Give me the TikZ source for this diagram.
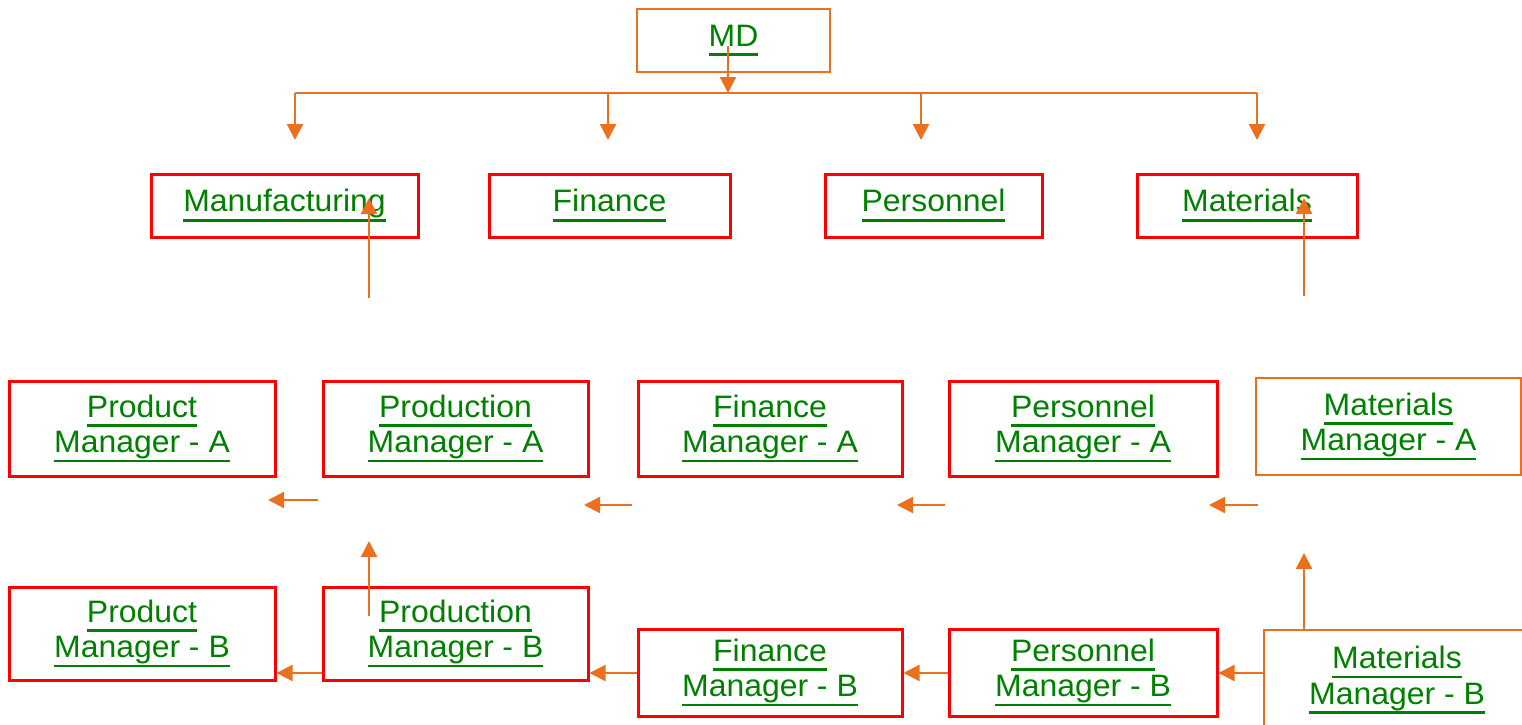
\documentclass[tikz,border=0pt]{standalone}
\usepackage{fontspec}
\setmainfont{Liberation Sans}[FakeStretch=1.03]
\usetikzlibrary{arrows.meta,fit}
\definecolor{org}{RGB}{234,112,30}
\definecolor{grn}{RGB}{0,128,0}
\definecolor{rd}{RGB}{255,0,0}
\newsavebox\ulbox
\newcommand{\ulx}[1]{\leavevmode\sbox\ulbox{#1}\rlap{\rule[-0.32em]{\wd\ulbox}{0.09em}}\usebox\ulbox}
\newcommand{\lbl}{\fontsize{15.5pt}{17.75pt}\selectfont}
\begin{document}
\begin{tikzpicture}[x=0.5pt,y=-0.5pt,
  box/.style={draw=rd, line width=1.5pt, inner sep=0pt},
  obox/.style={box, draw=org, line width=1pt},
  txt/.style={inner sep=0pt, text=grn, align=center, font=\lbl},
  bus/.style={draw=org, line width=1pt},
  conn/.style={draw=org, line width=1.1pt, -{Triangle[width=8pt,length=8pt]}}]
\useasboundingbox (0,0) rectangle (1522,724);
% top
\node[obox, fit={(637,9) (830,72)}] (md) {};
\node[box, fit={(151,174) (418,237)}] (manu) {};
\node[box, fit={(489,174) (730,237)}] (fin) {};
\node[box, fit={(825,174) (1042,237)}] (pers) {};
\node[box, fit={(1137,174) (1357,237)}] (mat) {};
% row A
\node[box, fit={(9,381) (275,476)}] (prdA) {};
\node[box, fit={(323,381) (588,476)}] (pmA) {};
\node[box, fit={(638,381) (902,476)}] (fmA) {};
\node[box, fit={(949,381) (1217,476)}] (perA) {};
\node[obox, fit={(1256,378) (1521,475)}] (matA) {};
% row B
\node[box, fit={(9,587) (275,680)}] (prdB) {};
\node[box, fit={(323,587) (588,680)}] (pmB) {};
\node[box, fit={(638,629) (902,716)}] (fmB) {};
\node[box, fit={(949,629) (1217,716)}] (perB) {};
\node[obox, fit={(1264,630) (1530,730)}] (matB) {};
% labels
\node[txt] (mdT) at (md.center) {\ulx{MD}};
\node[txt] (manuT) at (manu.center) {\ulx{Manufacturing}};
\node[txt] (finT) at (fin.center) {\ulx{Finance}};
\node[txt] (persT) at (pers.center) {\ulx{Personnel}};
\node[txt] (matT) at (mat.center) {\ulx{Materials}};
\node[txt] (prdAT) at (prdA.center) {\ulx{Product}\\\ulx{Manager - A}};
\node[txt] (pmAT) at (pmA.center) {\ulx{Production}\\\ulx{Manager - A}};
\node[txt] (fmAT) at (fmA.center) {\ulx{Finance}\\\ulx{Manager - A}};
\node[txt] (perAT) at (perA.center) {\ulx{Personnel}\\\ulx{Manager - A}};
\node[txt] (matAT) at (matA.center) {\ulx{Materials}\\\ulx{Manager - A}};
\node[txt] (prdBT) at (prdB.center) {\ulx{Product}\\\ulx{Manager - B}};
\node[txt] (pmBT) at (pmB.center) {\ulx{Production}\\\ulx{Manager - B}};
\node[txt] (fmBT) at (fmB.center) {\ulx{Finance}\\\ulx{Manager - B}};
\node[txt] (perBT) at (perB.center) {\ulx{Personnel}\\\ulx{Manager - B}};
\node[txt] (matBT) at (matB.center) {\ulx{Materials}\\\ulx{Manager - B}};
% MD tree
\coordinate (mds) at (728,46);
\coordinate (busM) at (728,93);
\coordinate (busL) at (295,93);
\coordinate (busR) at (1257,93);
\coordinate (b2) at (608,93);
\coordinate (b3) at (921,93);
\draw[bus] (busL) -- (busR);
\draw[conn] (mds) -- (busM);
\coordinate (t1) at (295,140);
\coordinate (t2) at (608,140);
\coordinate (t3) at (921,140);
\coordinate (t4) at (1257,140);
\draw[conn] (busL) -- (t1);
\draw[conn] (b2) -- (t2);
\draw[conn] (b3) -- (t3);
\draw[conn] (busR) -- (t4);
% up arrows
\coordinate (u1s) at (369,298); \coordinate (u1e) at (369,198);
\coordinate (u2s) at (1304,296); \coordinate (u2e) at (1304,198);
\coordinate (u3s) at (369,616); \coordinate (u3e) at (369,541);
\coordinate (u4e) at (1304,553);
\draw[conn] (u1s) -- (u1e);
\draw[conn] (u2s) -- (u2e);
\draw[conn] (u3s) -- (u3e);
\draw[conn] (matB.north -| u4e) -- (u4e);
% left arrows row A
\coordinate (a1s) at (318,500); \coordinate (a1e) at (268,500);
\coordinate (a2s) at (632,505); \coordinate (a2e) at (584,505);
\coordinate (a3s) at (945,505); \coordinate (a3e) at (897,505);
\coordinate (a4s) at (1258,505); \coordinate (a4e) at (1209,505);
\draw[conn] (a1s) -- (a1e);
\draw[conn] (a2s) -- (a2e);
\draw[conn] (a3s) -- (a3e);
\draw[conn] (a4s) -- (a4e);
% left arrows row B
\coordinate (rowB) at (0,673);
\draw[conn] (pmB.west |- rowB) -- (prdB.east |- rowB);
\draw[conn] (fmB.west |- rowB) -- (pmB.east |- rowB);
\draw[conn] (perB.west |- rowB) -- (fmB.east |- rowB);
\draw[conn] (matB.west |- rowB) -- (perB.east |- rowB);
\end{tikzpicture}
\end{document}
